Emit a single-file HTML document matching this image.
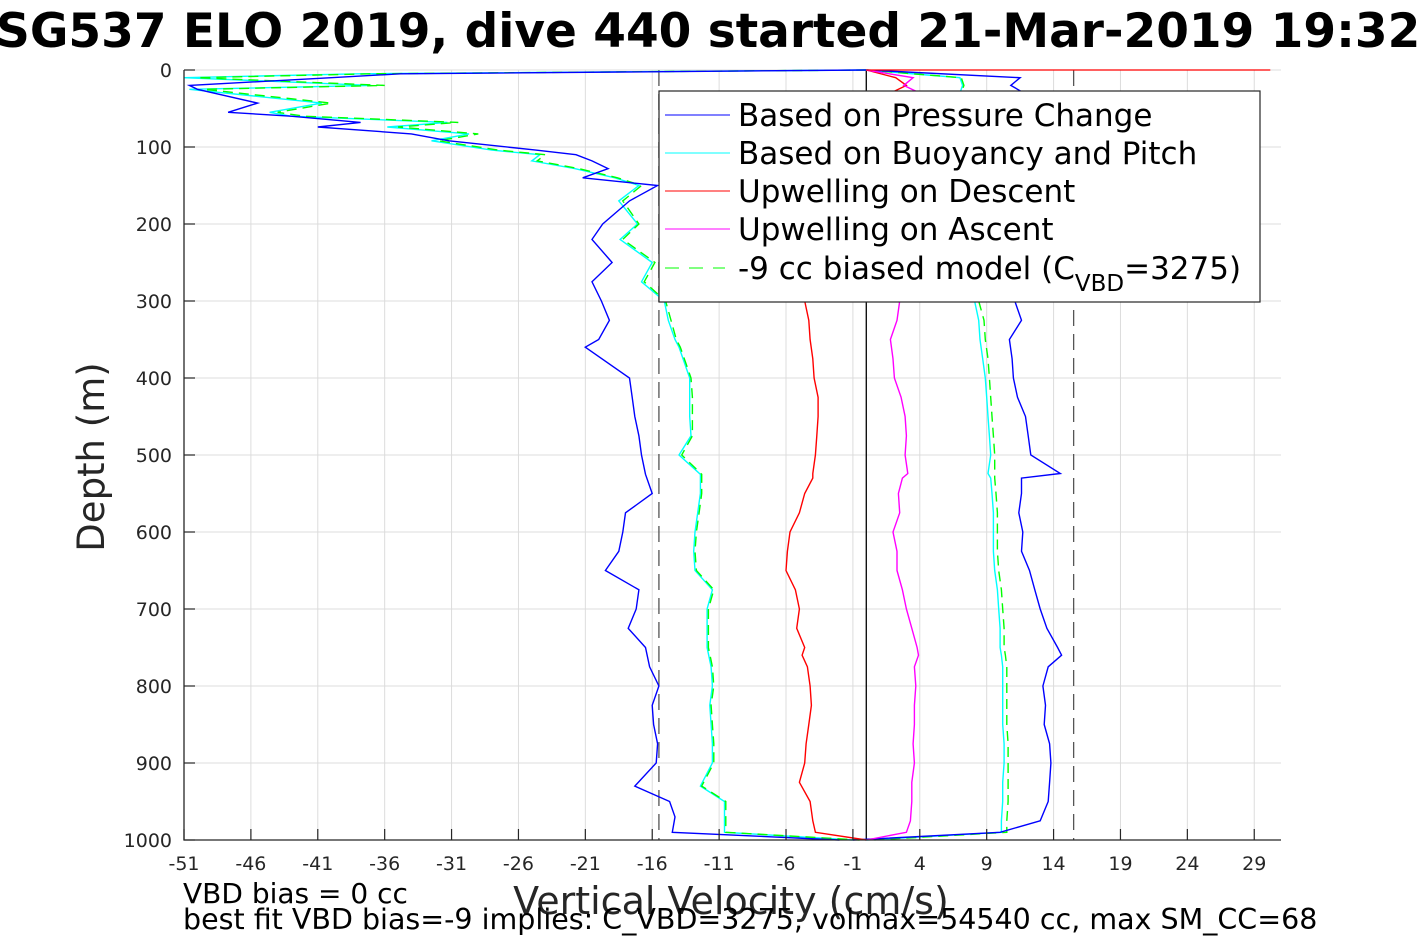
<!DOCTYPE html>
<html><head><meta charset="utf-8">
<style>
body{margin:0;background:#fff;width:1417px;height:945px;overflow:hidden;font-family:"Liberation Sans","DejaVu Sans",sans-serif}
svg{position:absolute;left:0;top:0}
</style></head>
<body>
<svg id="chart" width="1417" height="945" font-family="DejaVu Sans, Liberation Sans, sans-serif">
<text x="-4" y="47" text-anchor="start" font-size="47" font-weight="bold">SG537 ELO 2019, dive 440 started 21-Mar-2019 19:32:03</text>
<g id="grid"></g>
<g id="series"></g>
<g id="axes"></g>
<text transform="translate(104,457) rotate(-90)" text-anchor="middle" font-size="37" fill="#262626">Depth (m)</text>
<text x="731" y="914" text-anchor="middle" font-size="38" fill="#262626">Vertical Velocity (cm/s)</text>
<text x="183" y="903" font-size="28">VBD bias = 0 cc</text>
<text x="183" y="929" font-size="28.5">best fit VBD bias=-9 implies: C_VBD=3275, volmax=54540 cc, max SM_CC=68</text>
<g>
<rect x="659" y="91" width="601" height="211" fill="#fff" stroke="#262626" stroke-width="1.2"/>
<line x1="665" y1="115" x2="730" y2="115" stroke="#0000ff"/>
<text x="738" y="126" font-size="31">Based on Pressure Change</text>
<line x1="665" y1="153" x2="730" y2="153" stroke="#00ffff"/>
<text x="738" y="164" font-size="31">Based on Buoyancy and Pitch</text>
<line x1="665" y1="191" x2="730" y2="191" stroke="#ff0000"/>
<text x="738" y="202" font-size="31">Upwelling on Descent</text>
<line x1="665" y1="229" x2="730" y2="229" stroke="#ff00ff"/>
<text x="738" y="240" font-size="31">Upwelling on Ascent</text>
<line x1="665" y1="268" x2="725" y2="268" stroke="#00ff00" stroke-dasharray="14,10"/>
<text x="738" y="279" font-size="31">-9 cc biased model (C<tspan font-size="23" dy="12">VBD</tspan><tspan dy="-12">=3275)</tspan></text>
</g>
</svg>
<script>
const xTicks=[-51,-46,-41,-36,-31,-26,-21,-16,-11,-6,-1,4,9,14,19,24,29];
const yTicks=[0,100,200,300,400,500,600,700,800,900,1000];
const depthsDesc=[0,5,10,20,25,43,55,60,68,74,83,92,104,110,118,128,140,150,170,200,220,250,275,300,325,350,360,400,425,450,475,500,525,550,575,600,625,650,675,700,725,750,775,800,825,850,875,900,930,950,970,990,1000];
const bluePressDesc=[0,-34.8,-40,-50.6,-50,-45.5,-47.7,-43,-37.8,-41,-34,-31.2,-24.7,-21.7,-20.5,-19.3,-21.2,-15.6,-17.7,-19.7,-20.5,-19,-20.5,-19.8,-19.2,-20,-21,-17.7,-17.5,-17.3,-17,-16.8,-16.5,-16,-18,-18.2,-18.5,-19.5,-17,-17.2,-17.8,-16.5,-16.2,-15.5,-16,-15.9,-15.6,-15.7,-17.3,-14.7,-14.3,-14.5,-2];
const cyanBuoyDesc=[0,-38,-51,-37,-50.6,-40.7,-44.6,-43,-31.3,-35.8,-29.7,-32.5,-28,-24.4,-25,-21.8,-18.8,-17,-18.5,-17.1,-18.4,-16,-16.8,-15.1,-14.8,-14.3,-14,-13.2,-13.2,-13.2,-13.1,-14,-12.4,-12.4,-12.6,-12.8,-12.9,-12.8,-11.5,-11.9,-11.9,-11.9,-11.6,-11.5,-11.7,-11.6,-11.5,-11.5,-12.4,-10.6,-10.6,-10.6,-1];
const greenModelDesc=[0,-37,-50,-36,-49.5,-40,-44,-42,-30.5,-35,-29,-32,-27.5,-24,-24.6,-21.5,-18.6,-16.8,-18.2,-17,-18.2,-15.8,-16.6,-15,-14.6,-14.2,-13.9,-13.1,-13,-13,-13,-13.8,-12.3,-12.3,-12.5,-12.7,-12.8,-12.7,-11.4,-11.8,-11.8,-11.8,-11.5,-11.4,-11.6,-11.5,-11.4,-11.4,-12.3,-10.5,-10.5,-10.5,-0.5];
const depthsAsc=[0,10,20,30,300,325,350,375,400,425,450,475,500,524,530,550,575,600,625,650,675,700,725,750,760,775,800,825,850,875,900,925,950,975,990,1000];
const bluePressAsc=[0,11.5,10.8,11.8,11.1,11.6,10.7,10.9,11,11.3,11.9,12.1,12.3,14.5,11.6,11.6,11.4,11.7,11.6,12.2,12.6,13,13.5,14.3,14.6,13.6,13.2,13.4,13.3,13.7,13.8,13.7,13.6,13,10,-1];
const cyanBuoyAsc=[0,7,7.2,7,8.1,8.4,8.5,8.7,8.9,9,9.1,9.2,9.3,9.1,9.3,9.4,9.5,9.5,9.5,9.6,9.8,9.9,10,10,10.1,10.2,10.2,10.2,10.2,10.3,10.3,10.2,10.2,10.1,10.1,0];
const greenModelAsc=[0,7.1,7.3,7.1,8.4,8.8,8.9,9.1,9.2,9.3,9.4,9.5,9.6,9.6,9.6,9.7,9.8,9.8,9.8,9.9,10.1,10.2,10.3,10.3,10.4,10.5,10.5,10.5,10.5,10.6,10.6,10.6,10.6,10.5,10.5,0.5];
const redDescentUp=[0,2.2,3,1.8,-4.6,-4.3,-4.2,-4,-3.9,-3.6,-3.6,-3.7,-3.8,-4,-4,-4.6,-5,-5.7,-5.9,-6,-5.3,-5,-5.2,-4.6,-4.8,-4.4,-4.2,-4.1,-4.3,-4.5,-4.6,-5,-4.2,-4.0,-3.8,0];
const magentaAscentUp=[0,3.5,2.8,4,2.5,2.3,1.8,2,2.1,2.6,2.9,3,2.9,3.1,2.7,2.4,2.5,2,2.3,2.3,2.7,3,3.4,3.8,3.9,3.6,3.7,3.6,3.6,3.5,3.6,3.4,3.4,3.3,3,0];
const X0=184,X1=1281,Y0=70,Y1=840,VMIN=-51,VMAX=31;
function xs(v){return X0+(v-VMIN)/(VMAX-VMIN)*(X1-X0);}
function ys(d){return Y0+d/1000*(Y1-Y0);}
const NS='http://www.w3.org/2000/svg';
function mk(tag,attrs,parent){const e=document.createElementNS(NS,tag);for(const k in attrs)e.setAttribute(k,attrs[k]);parent.appendChild(e);return e;}
const grid=document.getElementById('grid'),axes=document.getElementById('axes'),ser=document.getElementById('series');
xTicks.forEach(t=>{
 const g=mk('line',{x1:xs(t),x2:xs(t),y1:Y0,y2:Y1,stroke:'#dcdcdc','stroke-width':1},grid);
 
 
 const tk=mk('line',{x1:xs(t),x2:xs(t),y1:Y1,y2:Y1-11,stroke:'#262626','stroke-width':1.2},axes);
 
 
 const lb=mk('text',{x:xs(t),y:Y1+30,'text-anchor':'middle','font-size':19,fill:'#262626'},axes);
 lb.textContent=t;
 
 
});
yTicks.forEach(t=>{
 const g=mk('line',{x1:X0,x2:X1,y1:ys(t),y2:ys(t),stroke:'#dcdcdc','stroke-width':1},grid);
 
 
 const tk=mk('line',{x1:X0,x2:X0+11,y1:ys(t),y2:ys(t),stroke:'#262626','stroke-width':1.2},axes);
 
 
 const lb=mk('text',{x:X0-12,y:ys(t)+7,'text-anchor':'end','font-size':19,fill:'#262626'},axes);
 lb.textContent=t;
 
 
});
const ax=mk('path',{d:`M${X0},${Y0}V${Y1}H${X1}`,stroke:'#262626','stroke-width':1.3,fill:'none'},axes);


function vline(v,dash,name,color){const l=mk('line',{x1:xs(v),x2:xs(v),y1:Y0,y2:Y1,stroke:color,'stroke-width':1.3},ser);if(dash)l.setAttribute('stroke-dasharray',dash);
 
 }
vline(-15.5,'16,8','dive-bound-left','#555');
vline(15.5,'16,8','dive-bound-right','#555');
vline(0,null,'zero-line','#000');
function line(ds,vs,color,name,dash){
 const d=ds.map((dd,i)=>(i?'L':'M')+xs(vs[i]).toFixed(1)+','+ys(dd).toFixed(1)).join('');
 const p=mk('path',{d:d,stroke:color,'stroke-width':1.4,fill:'none'},ser);
 if(dash)p.setAttribute('stroke-dasharray',dash);
 
 
}
line(depthsDesc,cyanBuoyDesc,'#00ffff','buoyancy-descent-line');
line(depthsDesc,greenModelDesc,'#00ff00','model-descent-line','10,6');
line(depthsDesc,bluePressDesc,'#0000ff','pressure-descent-line');
line(depthsAsc,cyanBuoyAsc,'#00ffff','buoyancy-ascent-line');
line(depthsAsc,greenModelAsc,'#00ff00','model-ascent-line','10,6');
line(depthsAsc,bluePressAsc,'#0000ff','pressure-ascent-line');
line(depthsAsc,redDescentUp,'#ff0000','upwelling-descent-line');
line(depthsAsc,magentaAscentUp,'#ff00ff','upwelling-ascent-line');
const r=mk('line',{x1:xs(0),x2:xs(30.2),y1:ys(0),y2:ys(0),stroke:'#ff0000','stroke-width':1.3},ser);


</script>
</body></html>
